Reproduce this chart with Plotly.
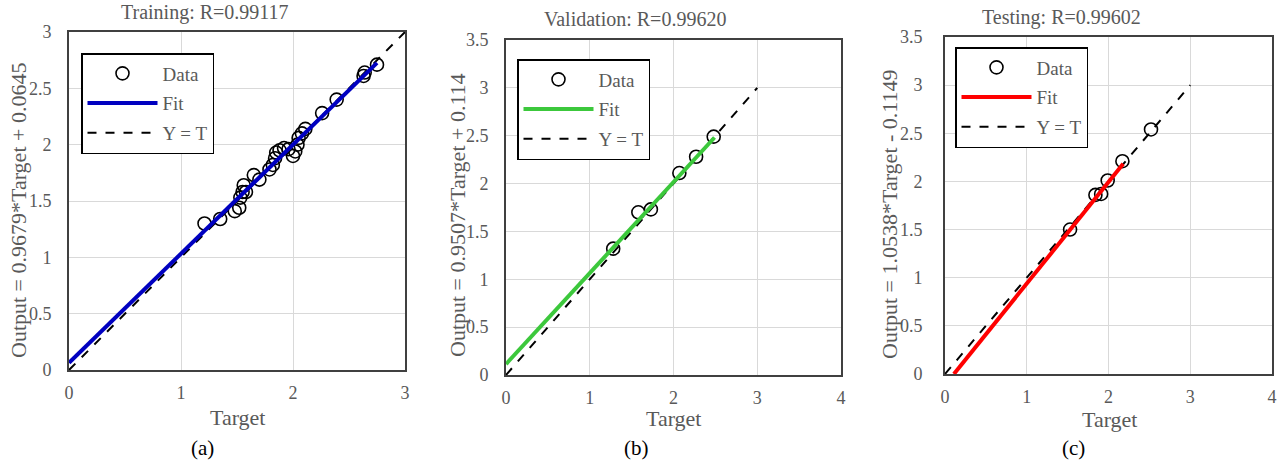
import plotly.graph_objects as go

# ---------------- data ----------------
train_target = [1.21, 1.35, 1.48, 1.52, 1.53, 1.55, 1.58, 1.56, 1.65, 1.70, 1.79, 1.82,
                1.84, 1.85, 1.88, 1.92, 1.96, 2.00, 2.02, 2.04, 2.05, 2.08, 2.11, 2.26,
                2.39, 2.63, 2.64, 2.75]
train_output = [1.30, 1.34, 1.41, 1.44, 1.53, 1.58, 1.58, 1.64, 1.73, 1.69, 1.78, 1.82,
                1.88, 1.93, 1.95, 1.97, 1.96, 1.90, 1.94, 2.00, 2.06, 2.10, 2.14, 2.28,
                2.40, 2.61, 2.64, 2.71]

val_target = [1.28, 1.58, 1.73, 2.07, 2.27, 2.48]
val_output = [1.32, 1.70, 1.73, 2.11, 2.28, 2.49]

test_target = [1.53, 1.84, 1.91, 1.99, 2.17, 2.52]
test_output = [1.50, 1.86, 1.87, 2.01, 2.21, 2.54]

fit_slopes = [0.9679, 0.9507, 1.0538]
fit_intercepts = [0.0645, 0.114, -0.1149]
fit_x_ranges = [[0, 2.75], [0, 2.49], [0.109, 2.18]]
identity_x = [0, 3]

titles = ["Training: R=0.99117", "Validation: R=0.99620", "Testing: R=0.99602"]
y_titles = ["Output = 0.9679*Target + 0.0645",
            "Output = 0.9507*Target + 0.114",
            "Output = 1.0538*Target - 0.1149"]
sub_labels = ["(a)", "(b)", "(c)"]
x_ranges = [[0, 3], [0, 4], [0, 4]]
y_ranges = [[0, 3], [0, 3.5], [0, 3.5]]

# ---------------- layout helpers ----------------
W, H = 1287, 465
FONT = "Liberation Serif, Times New Roman, serif"
GRAY = "#595959"
fit_colors = ["#0000C0", "#3CC83C", "#FF0000"]

# plot-area pixel boxes (left, right, top, bottom)
boxes = [(69, 405, 32, 370), (506, 841, 40, 375), (945, 1272, 37, 374)]
legend_pos = [(81, 53), (517, 59), (955, 47)]
title_pos = [(205, 13), (635, 19), (1061, 18)]
xtitle_pos = [(237, 417), (673, 418), (1109, 419)]
ytitle_pos = [(18, 211), (457, 215), (889, 214)]
sub_pos = [(202, 448), (636, 448), (1073, 448)]
ystandoff = [12, 12, 17]


def px(x):
    return x / W


def py(y):
    return 1 - y / H


fig = go.Figure()
datasets = [(train_target, train_output), (val_target, val_output), (test_target, test_output)]

for i, (tx, ty) in enumerate(datasets):
    xa = "x" if i == 0 else f"x{i+1}"
    ya = "y" if i == 0 else f"y{i+1}"
    lg = "legend" if i == 0 else f"legend{i+1}"
    fx = fit_x_ranges[i]
    fy = [fit_slopes[i] * v + fit_intercepts[i] for v in fx]

    fig.add_trace(go.Scatter(
        x=tx, y=ty, mode="markers", name="Data", xaxis=xa, yaxis=ya, legend=lg,
        legendgroup=f"d{i}", legendrank=1,
        marker=dict(symbol="circle-open", size=13, color="black", line=dict(width=1.6, color="black")),
    ))
    fig.add_trace(go.Scatter(
        x=identity_x, y=identity_x, mode="lines", name="Y = T", xaxis=xa, yaxis=ya, legend=lg,
        legendgroup=f"t{i}", legendrank=3,
        line=dict(color="black", width=2, dash="dash"),
    ))
    fig.add_trace(go.Scatter(
        x=fx, y=fy, mode="lines", name="Fit", xaxis=xa, yaxis=ya, legend=lg,
        legendgroup=f"f{i}", legendrank=2,
        line=dict(color=fit_colors[i], width=4),
    ))

layout = dict(
    width=W, height=H,
    margin=dict(l=0, r=0, t=0, b=0),
    paper_bgcolor="white", plot_bgcolor="white",
    font=dict(family=FONT, color=GRAY),
    annotations=[],
)

for i in range(3):
    l, r, t, b = boxes[i]
    xk = "xaxis" if i == 0 else f"xaxis{i+1}"
    yk = "yaxis" if i == 0 else f"yaxis{i+1}"
    yanchor_name = "y" if i == 0 else f"y{i+1}"
    xanchor_name = "x" if i == 0 else f"x{i+1}"
    axis_common = dict(
        showline=True, mirror=True, linecolor="#404040", linewidth=2,
        showgrid=True, gridcolor="#D9D9D9", gridwidth=1,
        zeroline=False, ticks="", automargin=False,
        tickfont=dict(family=FONT, size=18, color=GRAY),
    )
    layout[xk] = dict(axis_common, domain=[px(l), px(r)], range=x_ranges[i], dtick=1,
                      tick0=0, anchor=yanchor_name, ticklabelstandoff=5)
    layout[yk] = dict(axis_common, domain=[py(b), py(t)], range=y_ranges[i], dtick=0.5,
                      tick0=0, anchor=xanchor_name, ticklabelstandoff=ystandoff[i])
    lk = "legend" if i == 0 else f"legend{i+1}"
    lx, ly = legend_pos[i]
    layout[lk] = dict(
        x=px(lx), y=py(ly), xanchor="left", yanchor="top",
        bgcolor="white", bordercolor="black", borderwidth=1.5,
        font=dict(family=FONT, size=19, color=GRAY),
        tracegroupgap=2, itemwidth=70, traceorder="grouped",
    )
    layout["annotations"] += [
        dict(text=titles[i], x=px(title_pos[i][0]), y=py(title_pos[i][1]), xref="paper", yref="paper",
             showarrow=False, xanchor="center", yanchor="middle",
             font=dict(family=FONT, size=20, color=GRAY)),
        dict(text="Target", x=px(xtitle_pos[i][0]), y=py(xtitle_pos[i][1]), xref="paper", yref="paper",
             showarrow=False, xanchor="center", yanchor="middle",
             font=dict(family=FONT, size=22, color=GRAY)),
        dict(text=y_titles[i], x=px(ytitle_pos[i][0]), y=py(ytitle_pos[i][1]), xref="paper", yref="paper",
             showarrow=False, xanchor="center", yanchor="middle", textangle=-90,
             font=dict(family=FONT, size=22, color=GRAY)),
        dict(text=sub_labels[i], x=px(sub_pos[i][0]), y=py(sub_pos[i][1]), xref="paper", yref="paper",
             showarrow=False, xanchor="center", yanchor="middle",
             font=dict(family=FONT, size=21, color="black")),
    ]

fig.update_layout(**layout)
fig.write_html("out.html")
